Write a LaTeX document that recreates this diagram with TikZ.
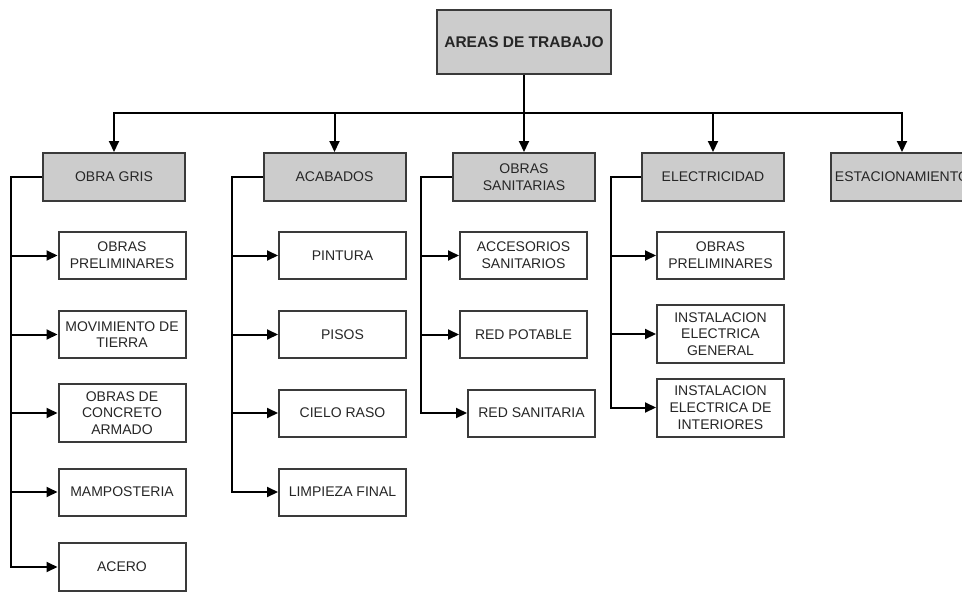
\documentclass[tikz,border=0pt]{standalone}
\usepackage{fontspec}
\setmainfont{Liberation Sans}
\usetikzlibrary{arrows.meta}
\definecolor{boxfill}{HTML}{CCCCCC}
\definecolor{boxline}{HTML}{3A3A3A}
\definecolor{txt}{HTML}{262626}
\tikzset{
  base/.style={draw=boxline, line width=2pt, inner sep=0pt, align=center, text=txt,
    font=\fontsize{14}{16.7}\selectfont},
  parentbox/.style={base, fill=boxfill, minimum width=142pt, minimum height=48pt},
  childbox/.style={base, fill=white, minimum width=127pt, minimum height=47pt},
  tallbox/.style={childbox, minimum height=58pt},
  conn/.style={line width=2pt, black},
  arr/.style={conn, -{Triangle[length=11pt,width=10pt]}}
}
\begin{document}
\begin{tikzpicture}[x=1pt,y=-1pt]
\useasboundingbox (0,0) rectangle (962,592);
\clip (0,0) rectangle (962,592);
\fill[white] (0,0) rectangle (962,592);

% top
\node[parentbox, minimum width=174pt, minimum height=64pt,
  font=\bfseries\fontsize{15.5}{18}\selectfont] (top) at (524,42) {AREAS DE TRABAJO};

% level 1
\node[parentbox] (og) at (114,177) {OBRA GRIS};
\node[parentbox] (ac) at (334.5,177) {ACABADOS};
\node[parentbox] (os) at (524,177) {OBRAS\\SANITARIAS};
\node[parentbox] (el) at (713,177) {ELECTRICIDAD};
\node[parentbox] (es) at (902,177) {ESTACIONAMIENTO};

% OBRA GRIS children
\node[childbox] (og1) at (122,255.5) {OBRAS\\PRELIMINARES};
\node[childbox] (og2) at (122,334.5) {MOVIMIENTO DE\\TIERRA};
\node[tallbox] (og3) at (122,413) {OBRAS DE\\CONCRETO\\ARMADO};
\node[childbox] (og4) at (122,492) {MAMPOSTERIA};
\node[childbox, minimum height=48pt] (og5) at (122,567) {ACERO};

% ACABADOS children
\node[childbox] (ac1) at (342.5,255.5) {PINTURA};
\node[childbox] (ac2) at (342.5,334.5) {PISOS};
\node[childbox] (ac3) at (342.5,413) {CIELO RASO};
\node[childbox] (ac4) at (342.5,492) {LIMPIEZA FINAL};

% OBRAS SANITARIAS children
\node[childbox] (os1) at (523.5,255.5) {ACCESORIOS\\SANITARIOS};
\node[childbox] (os2) at (523.5,334.5) {RED POTABLE};
\node[childbox] (os3) at (531.5,413) {RED SANITARIA};

% ELECTRICIDAD children
\node[childbox] (el1) at (720.5,255.5) {OBRAS\\PRELIMINARES};
\node[tallbox] (el2) at (720.5,334) {INSTALACION\\ELECTRICA\\GENERAL};
\node[tallbox] (el3) at (720.5,407.5) {INSTALACION\\ELECTRICA DE\\INTERIORES};

% top to level 1
\coordinate (bus) at (524,113);
\draw[conn] (top.south) -- (bus);
\foreach \n in {og,ac,os,el,es}{
  \draw[arr] (bus) -| (\n.north);
}

% spines
\foreach \c in {og1,og2,og3,og4,og5}{
  \draw[arr] (og.west) -- ++(-31,0) |- (\c.west);
}
\foreach \c in {ac1,ac2,ac3,ac4}{
  \draw[arr] (ac.west) -- ++(-31,0) |- (\c.west);
}
\foreach \c in {os1,os2,os3}{
  \draw[arr] (os.west) -- ++(-31,0) |- (\c.west);
}
\foreach \c in {el1,el2,el3}{
  \draw[arr] (el.west) -- ++(-30,0) |- (\c.west);
}
\end{tikzpicture}
\end{document}
